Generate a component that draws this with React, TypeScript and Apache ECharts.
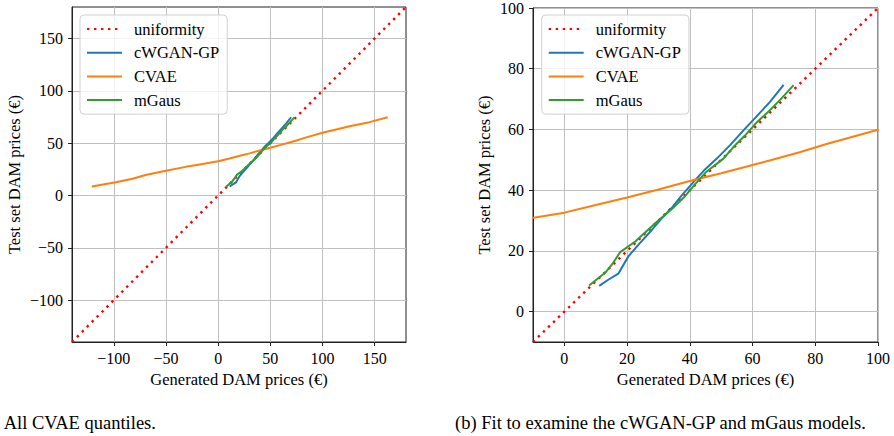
import React, { useEffect, useRef } from "react";
import * as echarts from "echarts";

const seriesNames = ["uniformity", "cWGAN-GP", "CVAE", "mGaus"];
const seriesColors = ["#ff0000", "#1f77b4", "#ff7f0e", "#2ca02c"];

const uniformLeft = [[-140, -140], [180, 180]];
const uniformRight = [[-10, -10], [100, 100]];

const cwganPoints = [
  [11.1, 8.5], [14, 10.5], [17.2, 12.5], [20.4, 18.2], [24, 22.5], [27.9, 26.9],
  [31.1, 30.8], [34.5, 34.5], [37.5, 38.4], [41.7, 43.3], [45, 47], [48.6, 50.4],
  [53, 55], [57.1, 59.7], [61, 64], [65.5, 69], [69.9, 74.7],
];

const mgausPoints = [
  [7.9, 8.6], [13, 12.8], [15.5, 16], [17.8, 19.6], [22.6, 23.1], [26, 26.3],
  [29.5, 29.6], [34.3, 33.8], [38, 37.5], [41.7, 42], [45, 45.8], [50.7, 50.4],
  [53.9, 54.2], [57.5, 57.9], [61.4, 62.4], [65, 65.8], [69, 70], [73.1, 74.6],
];

const cvaePoints = [
  [-121, 8.6], [-98, 12.6], [-82, 16], [-69.5, 19.5], [-50, 23.5], [-31, 27.3],
  [-15, 30], [0, 32.6], [10, 35.1], [20, 37.6], [30, 40.2], [40, 43], [50, 45.6],
  [60, 48.3], [66.6, 50.1], [75, 52.5], [83.6, 55.2], [100, 59.9], [115, 63.5],
  [127, 66.4], [145, 70], [162.5, 74.6],
];

const leftTicks = [-100, -50, 0, 50, 100, 150];
const rightTicks = [0, 20, 40, 60, 80, 100];
const leftRange = [-140, 180];
const rightRange = [-10, 100];

const xTitle = "Generated DAM prices (€)";
const yTitle = "Test set DAM prices (€)";
const captionA = "(a) All CVAE quantiles.";
const captionB = "(b) Fit to examine the cWGAN-GP and mGaus models.";

const FONT = '"Liberation Serif", "DejaVu Serif", serif';

function fmt(v: number) {
  return String(v).replace("-", "\u2212");
}

function makeAxis(
  kind: "x" | "y",
  gridIndex: number,
  range: number[],
  ticks: number[],
  nameGap: number
) {
  return {
    type: "value",
    gridIndex,
    min: range[0],
    max: range[1],
    name: kind === "x" ? xTitle : yTitle,
    nameLocation: "middle",
    nameGap,
    nameTextStyle: { fontFamily: FONT, fontSize: 16.5, color: "#000" },
    axisLine: { show: true, onZero: false, lineStyle: { color: "#222", width: 1 } },
    axisTick: {
      show: true,
      inside: false,
      length: 4,
      customValues: ticks,
      lineStyle: { color: "#222", width: 1 },
    },
    axisLabel: {
      customValues: ticks,
      margin: kind === "x" ? 8 : 9,
      fontFamily: FONT,
      fontSize: 16,
      color: "#000",
      formatter: (v: number) => fmt(v),
    },
    splitLine: { show: true, lineStyle: { color: "#c0c0c0", width: 1 } },
  };
}

function makeLegend(left: number) {
  return {
    left,
    top: 15,
    orient: "vertical",
    data: seriesNames,
    selectedMode: false,
    itemWidth: 35,
    itemHeight: 10,
    itemGap: 5.7,
    padding: [5, 8, 5, 6],
    borderColor: "#d0d0d0",
    borderWidth: 1,
    borderRadius: 4,
    backgroundColor: "rgba(255,255,255,0.8)",
    itemStyle: { opacity: 0, borderWidth: 0 },
    lineStyle: { width: 2 },
    textStyle: {
      fontFamily: FONT,
      fontSize: 16.5,
      color: "#000",
      lineHeight: 18,
      padding: [0, 0, 0, 7],
    },
  };
}

function makeSeries(gridIndex: number, uniform: number[][]) {
  const datasets = [uniform, cwganPoints, cvaePoints, mgausPoints];
  return datasets.map((data, i) => ({
    type: "line",
    name: seriesNames[i],
    xAxisIndex: gridIndex,
    yAxisIndex: gridIndex,
    data,
    symbol: "none",
    clip: true,
    color: seriesColors[i],
    lineStyle: {
      color: seriesColors[i],
      width: i === 0 ? 2.4 : 2,
      type: i === 0 ? [2.4, 4.6] : "solid",
      cap: "butt",
    },
  }));
}

export default function App() {
  const ref = useRef<HTMLDivElement>(null);
  useEffect(() => {
    if (!ref.current) return;
    const chart = echarts.init(ref.current, undefined, { renderer: "svg" });
    chart.setOption({
      animation: false,
      backgroundColor: "#ffffff",
      grid: [
        { left: 72, top: 7, width: 334, height: 335, show: true, borderColor: "#222", borderWidth: 1, backgroundColor: "transparent" },
        { left: 533, top: 7, width: 345, height: 335, show: true, borderColor: "#222", borderWidth: 1, backgroundColor: "transparent" },
      ],
      xAxis: [
        makeAxis("x", 0, leftRange, leftTicks, 28),
        makeAxis("x", 1, rightRange, rightTicks, 28),
      ],
      yAxis: [
        makeAxis("y", 0, leftRange, leftTicks, 49),
        makeAxis("y", 1, rightRange, rightTicks, 40),
      ],
      legend: [makeLegend(80), makeLegend(541.7)],
      series: [...makeSeries(0, uniformLeft), ...makeSeries(1, uniformRight)],
      graphic: [
        {
          type: "text",
          x: -20.5,
          y: 423,
          style: { text: captionA, font: `18.5px ${FONT}`, fill: "#000", verticalAlign: "middle" },
        },
        {
          type: "text",
          x: 455,
          y: 423,
          style: { text: captionB, font: `18.5px ${FONT}`, fill: "#000", verticalAlign: "middle" },
        },
      ],
    });
    return () => chart.dispose();
  }, []);
  return (
    <div
      ref={ref}
      style={{ position: "fixed", left: 0, top: 0, width: 894, height: 436, background: "#fff" }}
    />
  );
}
